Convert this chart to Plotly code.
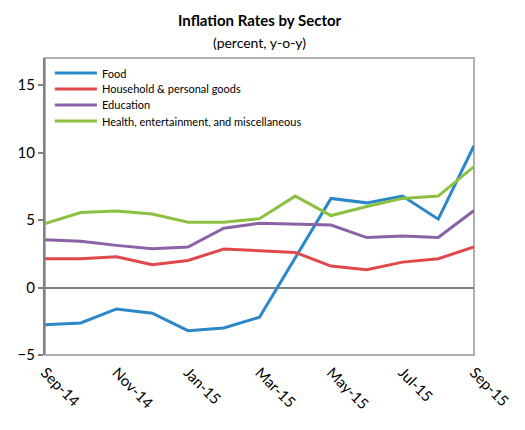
import plotly.graph_objects as go

months = ["Sep-14", "Oct-14", "Nov-14", "Dec-14", "Jan-15", "Feb-15", "Mar-15",
          "Apr-15", "May-15", "Jun-15", "Jul-15", "Aug-15", "Sep-15"]
tick_labels = ["Sep-14", "Nov-14", "Jan-15", "Mar-15", "May-15", "Jul-15", "Sep-15"]

food = [-2.75, -2.63, -1.59, -1.9, -3.2, -3.0, -2.2, 2.2, 6.6, 6.27, 6.77, 5.06, 10.5]
household = [2.13, 2.13, 2.28, 1.69, 2.0, 2.85, 2.73, 2.6, 1.59, 1.31, 1.88, 2.13, 3.0]
education = [3.54, 3.42, 3.12, 2.87, 3.0, 4.39, 4.76, 4.68, 4.63, 3.7, 3.82, 3.7, 5.7]
health = [4.73, 5.55, 5.67, 5.45, 4.83, 4.83, 5.1, 6.77, 5.33, 6.0, 6.6, 6.77, 8.95]

series = [
    ("Food", food, "#2b87c8"),
    ("Household & personal goods", household, "#e0484c"),
    ("Education", education, "#8a62a8"),
    ("Health, entertainment, and miscellaneous", health, "#8cc043"),
]

FONT = "Lato"
W, H = 525, 430
M_L, M_R, M_T, M_B = 45, 42, 58, 75
plot_w = W - M_L - M_R
plot_h = H - M_T - M_B


def dom_x(px):
    return (px - M_L) / plot_w


def dom_y(px):
    return (H - M_B - px) / plot_h


fig = go.Figure()
for name, vals, color in series:
    fig.add_trace(go.Scatter(x=months, y=vals, name=name, mode="lines",
                             line=dict(color=color, width=3), showlegend=False))

shapes = [
    dict(type="rect", xref="x domain", yref="y domain", x0=0, x1=1, y0=0, y1=1,
         line=dict(color="#b0b0b0", width=2), layer="below"),
]
annotations = [
    dict(text="<b>Inflation Rates by Sector</b>", x=0.5, xref="x domain",
         y=dom_y(20), yref="y domain", yanchor="middle", showarrow=False,
         font=dict(size=15, family=FONT)),
    dict(text="(percent, y-o-y)", x=0.5, xref="x domain",
         y=dom_y(43), yref="y domain", yanchor="middle", showarrow=False,
         font=dict(size=14, family=FONT)),
]

# legend key: short line swatch followed by the series name
for i, (name, _, color) in enumerate(series):
    row_y = dom_y(73 + 16 * i)
    shapes.append(dict(type="line", xref="x domain", yref="y domain",
                       x0=dom_x(55), x1=dom_x(98), y0=row_y, y1=row_y,
                       line=dict(color=color, width=3)))
    annotations.append(dict(text=name, x=dom_x(101), xref="x domain", xanchor="left",
                            y=row_y, yref="y domain", yanchor="middle",
                            showarrow=False, font=dict(size=11, family=FONT)))

fig.update_layout(
    width=W, height=H,
    margin=dict(l=M_L, r=M_R, t=M_T, b=M_B),
    paper_bgcolor="white", plot_bgcolor="white",
    font=dict(family=FONT, color="#000000"),
    showlegend=False,
    shapes=shapes,
    annotations=annotations,
)

fig.update_xaxes(
    type="category", tickmode="array", tickvals=tick_labels, ticktext=tick_labels,
    tickangle=45, tickfont=dict(size=15, family=FONT),
    showgrid=False, showline=False, ticks="", range=[0, 12], ticklabelstandoff=5,
)
fig.update_yaxes(
    range=[-5, 17], tickvals=[-5, 0, 5, 10, 15], tickfont=dict(size=15, family=FONT),
    showgrid=False, showline=True, linecolor="#808080", linewidth=2,
    ticks="outside", ticklen=5, tickcolor="#808080", tickwidth=1.5,
    zeroline=True, zerolinecolor="#808080", zerolinewidth=2,
)

fig.write_html("out.html")
